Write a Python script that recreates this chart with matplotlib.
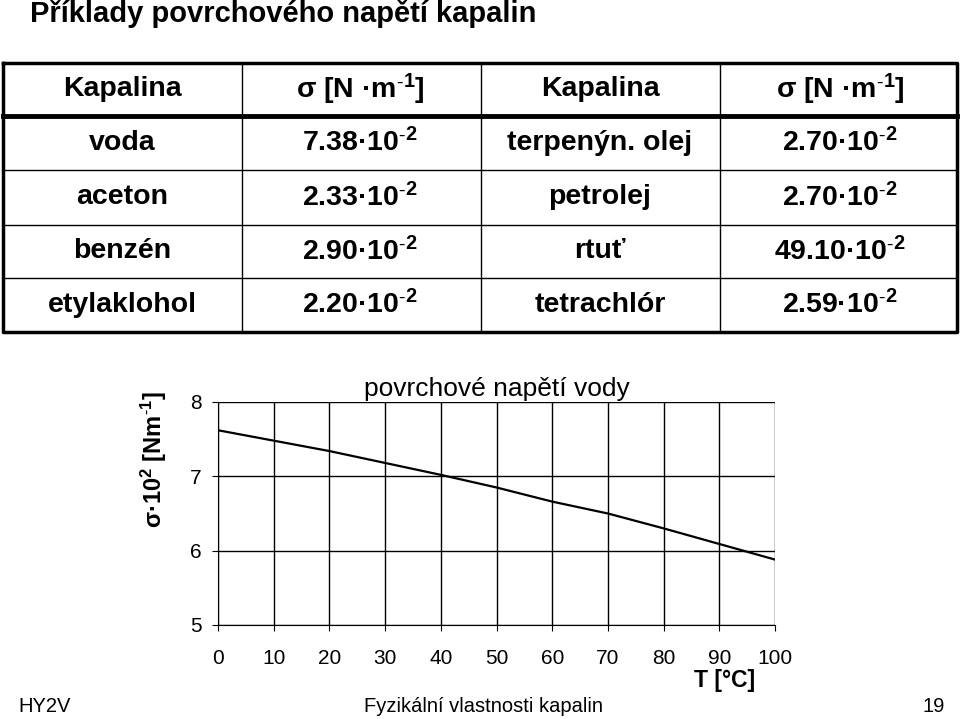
import numpy as np
import matplotlib.pyplot as plt

plt.rcParams['font.family'] = ['Liberation Sans', 'DejaVu Sans']
plt.rcParams['mathtext.default'] = 'regular'

# table data
left_names = ['voda', 'aceton', 'benzén', 'etylaklohol']
left_vals = [7.38, 2.33, 2.90, 2.20]
right_names = ['terpenýn. olej', 'petrolej', 'rtuť', 'tetrachlór']
right_vals = [2.70, 2.70, 49.10, 2.59]

# povrchove napeti vody (sigma * 10^2)
temp = [0, 10, 20, 30, 40, 50, 60, 70, 80, 90, 100]
sigma = [7.62, 7.48, 7.34, 7.18, 7.02, 6.85, 6.66, 6.50, 6.30, 6.09, 5.88]

fig = plt.figure(figsize=(9.6, 7.19), dpi=100)

# table drawn in pixel coords
tab = fig.add_axes([0, 0, 1, 1])
tab.set_xlim(0, 960)
tab.set_ylim(719, 0)
tab.axis('off')

tab.text(30, 14, 'Příklady povrchového napětí kapalin', fontsize=21,
         fontweight='bold', ha='left', va='center')

cols = [3, 242, 481, 720, 957]
rows = [63, 116, 170, 225, 278, 332]
for x in cols[1:-1]:
    tab.plot([x, x], [rows[0], rows[-1]], color='black', lw=1)
for y in rows[2:-1]:
    tab.plot([cols[0], cols[-1]], [y, y], color='black', lw=1)
tab.plot([cols[0], cols[-1]], [rows[1], rows[1]], color='black', lw=3.5)
tab.plot([cols[0], cols[-1], cols[-1], cols[0], cols[0]],
         [rows[0], rows[0], rows[-1], rows[-1], rows[0]], color='black', lw=2.5)

fs = 20.5
cx = [122, 360, 600, 840]
head = ['Kapalina', 'σ [N ·m$^{‑1}$]', 'Kapalina', 'σ [N ·m$^{‑1}$]']
ry = [(rows[i] + rows[i + 1]) / 2 for i in range(len(rows) - 1)]
for x, h in zip(cx, head):
    tab.text(x, ry[0], h, fontsize=fs, fontweight='bold', ha='center', va='center')

def fmt(v):
    return '{:.2f}·10$^{{‑2}}$'.format(v)

for i in range(len(left_names)):
    y = ry[i + 1]
    tab.text(cx[0], y, left_names[i], fontsize=fs, fontweight='bold', ha='center', va='center')
    tab.text(cx[1], y, fmt(left_vals[i]), fontsize=fs, fontweight='bold', ha='center', va='center')
    tab.text(cx[2], y, right_names[i], fontsize=fs, fontweight='bold', ha='center', va='center')
    tab.text(cx[3], y, fmt(right_vals[i]), fontsize=fs, fontweight='bold', ha='center', va='center')

# footer
tab.text(18, 706, 'HY2V', fontsize=14.5, ha='left', va='center')
tab.text(483, 706, 'Fyzikální vlastnosti kapalin', fontsize=14.5, ha='center', va='center')
tab.text(945, 706, '19', fontsize=14.5, ha='right', va='center')

# chart
ax = fig.add_axes([218 / 960, 1 - 625 / 719, (775 - 218) / 960, (625 - 402) / 719])
ax.plot(temp, sigma, color='black', lw=1.6)
ax.set_xlim(0, 100)
ax.set_ylim(5, 8)
ax.set_xticks(range(0, 101, 10))
ax.set_yticks([5, 6, 7, 8])
ax.grid(True, color='black', lw=1)
ax.spines['top'].set_visible(False)
ax.spines['right'].set_visible(False)
ax.tick_params(labelsize=15, length=4, color='black', pad=8)
ax.tick_params(axis='x', pad=13)
ax.set_title('povrchové napětí vody', fontsize=19, pad=4)
ax.set_ylabel('σ·10$^{2}$ [Nm$^{‑1}$]', fontsize=17, fontweight='bold')
ax.yaxis.set_label_coords(-0.088, 0.74)
ax.text(725, 680, 'T [°C]', fontsize=16.5, fontweight='bold', ha='center', va='center',
        transform=tab.transData)

fig.savefig('out.png', dpi=100)
